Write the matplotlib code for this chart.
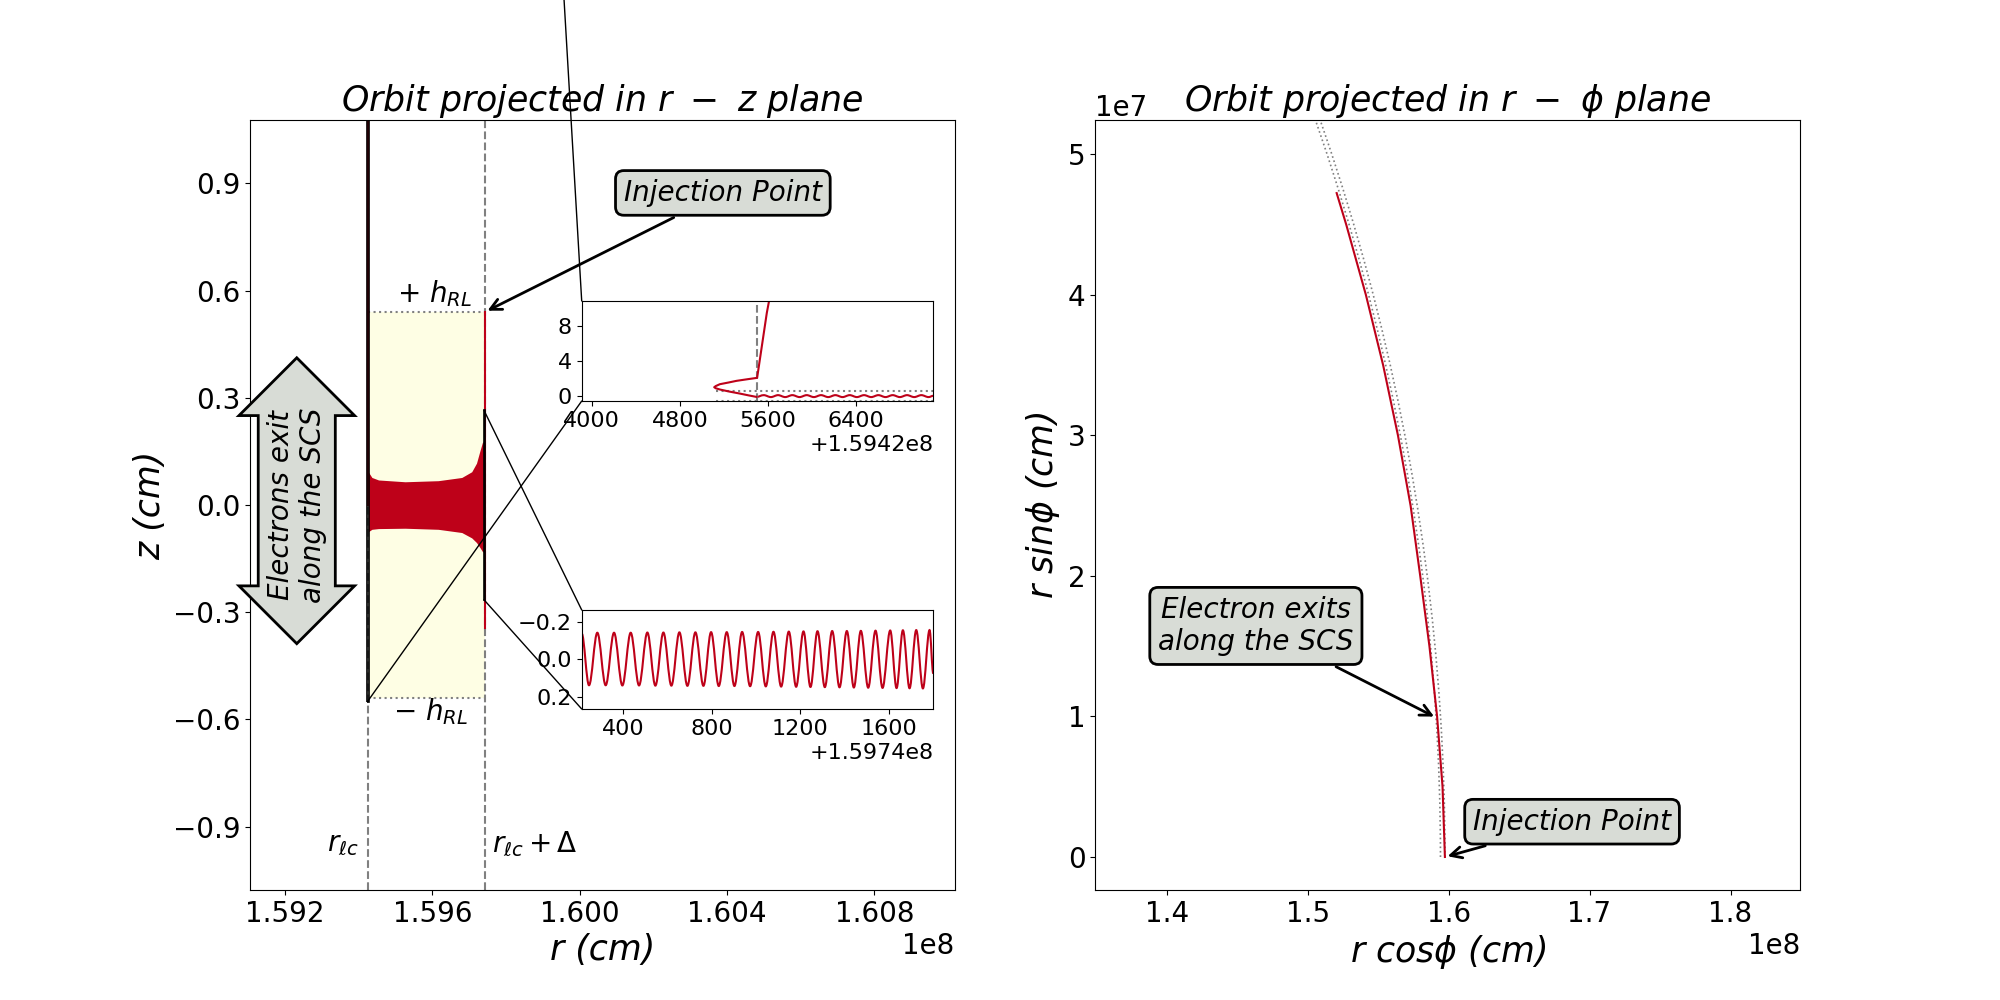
import numpy as np
import matplotlib.pyplot as plt
from matplotlib.patches import Rectangle, Arc, ConnectionPatch, PathPatch
from matplotlib.path import Path

RED = '#be0119'
BOX = '#d8dcd6'
YELLOW = '#fefee4'

# geometry of the light cylinder region (cm)
r_lc = 1.594255e8          # r_lc
r_out = 1.597430e8         # r_lc + Delta
h_rl = 0.54

main_xlim = (1.59105e8, 1.61018e8)
main_ylim = (-1.077, 1.077)
main_xticks = [1.592e8, 1.596e8, 1.600e8, 1.604e8, 1.608e8]
main_yticks = [-0.9, -0.6, -0.3, 0.0, 0.3, 0.6, 0.9]

# envelope of the fast z oscillation between r_lc and r_lc + Delta
band_r = [1.59426e8, 1.59436e8, 1.59454e8, 1.59526e8, 1.59616e8, 1.59680e8,
          1.59707e8, 1.59720e8, 1.59730e8, 1.59736e8, 1.59743e8]
band_top = [0.093, 0.077, 0.070, 0.065, 0.068, 0.077, 0.093, 0.117, 0.154, 0.175, 0.18]
band_bot = [-0.075, -0.068, -0.066, -0.065, -0.068, -0.077, -0.092, -0.105, -0.120, -0.130, -0.135]
edge_z = [-0.344, 0.54]     # orbit along r_lc + Delta
exit_z = [0.0, 10.8]        # orbit leaving along r_lc

# inset 1 (around r_lc)
ins1_base = 1.5942e8
ins1_xlim = (3909, 7098)
ins1_ylim = (-0.55, 10.8)
ins1_xticks = [4000, 4800, 5600, 6400]
ins1_yticks = [0, 4, 8]
ins1_dot_start = 5126
loop_dx = [5609, 5588, 5570, 5552, 5534, 5516, 5500, 5410, 5313, 5240, 5162, 5125, 5111,
           5125, 5162, 5250, 5343, 5420, 5494]
loop_z = [10.84, 9.44, 7.93, 6.42, 4.91, 3.40, 2.08, 1.92, 1.74, 1.55, 1.36, 1.15, 1.02,
          0.90, 0.76, 0.52, 0.30, 0.10, -0.08]
wig_dx = [5494, 5560, 5625, 5690, 5755, 5820, 5885, 5950, 6015, 6080, 6145, 6210, 6275,
          6340, 6405, 6470, 6535, 6600, 6665, 6730, 6795, 6860, 6925, 6990, 7055, 7100]
wig_z = [-0.08, 0.12, -0.10, 0.12, -0.10, 0.12, -0.10, 0.12, -0.10, 0.12, -0.10, 0.12, -0.10,
         0.12, -0.10, 0.12, -0.10, 0.12, -0.10, 0.12, -0.10, 0.12, -0.10, 0.12, -0.10, 0.05]

# inset 2 (near r_lc + Delta)
ins2_base = 1.5974e8
ins2_xlim = (212, 1800)
ins2_ylim = (0.265, -0.265)
ins2_xticks = [400, 800, 1200, 1600]
ins2_yticks = [-0.2, 0.0, 0.2]
osc_dx = [212, 245.0, 282.6, 320.3, 358.0, 395.7, 433.3, 471.0, 508.6, 544.8, 581.0, 617.1,
          653.3, 689.5, 725.6, 761.8, 796.4, 831.1, 867.2, 901.9, 936.6, 972.7, 1008.9,
          1043.5, 1078.2, 1112.9, 1147.5, 1180.6, 1213.8, 1245.4, 1277.1, 1310.2, 1343.4,
          1376.5, 1409.7, 1441.3, 1472.9, 1506.1, 1539.2, 1570.9, 1605.5, 1634.2, 1662.8,
          1692.9, 1723.1, 1753.2, 1783.3, 1800]
osc_z = [-0.139, 0.138, -0.143, 0.138, -0.143, 0.139, -0.143, 0.139, -0.144, 0.140, -0.144,
         0.140, -0.145, 0.141, -0.145, 0.141, -0.146, 0.142, -0.146, 0.142, -0.147, 0.143,
         -0.147, 0.144, -0.148, 0.145, -0.149, 0.146, -0.150, 0.147, -0.151, 0.148, -0.152,
         0.149, -0.152, 0.150, -0.153, 0.151, -0.154, 0.152, -0.155, 0.153, -0.156, 0.154,
         -0.157, 0.155, -0.157, 0.075]

# right panel: orbit in the r - phi plane
rp_xlim = (1.3495e8, 1.8493e8)
rp_ylim = (-0.235e7, 5.244e7)
rp_xticks = [1.4e8, 1.5e8, 1.6e8, 1.7e8, 1.8e8]
rp_yticks = [0, 1e7, 2e7, 3e7, 4e7, 5e7]
orbit_x = [1.5974e8, 1.59572e8, 1.59186e8, 1.58642e8, 1.57989e8, 1.57306e8, 1.56409e8,
           1.55357e8, 1.54134e8, 1.52739e8, 1.52061e8]
orbit_y = [0, 0.5e7, 1.0e7, 1.5e7, 2.0e7, 2.5e7, 3.0e7, 3.5e7, 4.0e7, 4.5e7, 4.724e7]
circle_r = [r_lc, r_out]


def smooth_wave(xs, zs):
    # cubic segments with flat tangents at each extremum
    verts = [(xs[0], zs[0])]
    codes = [Path.MOVETO]
    for i in range(1, len(xs)):
        h = 0.36 * (xs[i] - xs[i - 1])
        verts += [(xs[i - 1] + h, zs[i - 1]), (xs[i] - h, zs[i]), (xs[i], zs[i])]
        codes += [Path.CURVE4] * 3
    return Path(verts, codes)


txt = dict(fontsize=20, style='italic')
boxed = dict(boxstyle='round,pad=0.3', fc=BOX, ec='k', lw=2)

fig, (ax, ax2) = plt.subplots(1, 2, figsize=(20, 10))

# ---------------- left: r - z plane ----------------
ax.fill_between([r_lc, r_out], -h_rl, h_rl, color=YELLOW, lw=0)
ax.fill_between(band_r, band_bot, band_top, color=RED, lw=0)
ax.axvline(r_lc, color='gray', ls='--', lw=1.5)
ax.axvline(r_out, color='gray', ls='--', lw=1.5)
ax.plot([r_lc, r_out], [h_rl, h_rl], color='gray', ls=':', lw=1.5)
ax.plot([r_lc, r_out], [-h_rl, -h_rl], color='gray', ls=':', lw=1.5)
ax.plot([r_out, r_out], edge_z, color=RED, lw=1.5)
ax.plot([r_lc, r_lc], exit_z, color=RED, lw=1.5)

ax.set_xlim(main_xlim)
ax.set_ylim(main_ylim)
ax.set_xticks(main_xticks)
ax.set_yticks(main_yticks)
ax.tick_params(labelsize=20)
ax.xaxis.get_offset_text().set_fontsize(20)
ax.set_xlabel('r (cm)', fontsize=25, style='italic')
ax.set_ylabel('z (cm)', fontsize=25, style='italic')
ax.set_title(r'Orbit projected in $r\ -\ z$ plane', fontsize=25, style='italic')

ax.text(1.596073e8, 0.59, r'$+\ h_{RL}$', fontsize=20, ha='center', va='center')
ax.text(1.595938e8, -0.578, r'$-\ h_{RL}$', fontsize=20, ha='center', va='center')
ax.text(1.593577e8, -0.949, r'$r_{\ell c}$', fontsize=20, ha='center', va='center')
ax.text(1.598787e8, -0.949, r'$r_{\ell c} + \Delta$', fontsize=20, ha='center', va='center')

ax.text(1.59232e8, 0.0, 'Electrons exit\nalong the SCS', rotation=90, ha='center',
        va='center', bbox=dict(boxstyle='darrow,pad=0.3', fc=BOX, ec='k', lw=2), **txt)
ax.annotate('Injection Point', xy=(r_out, h_rl), xytext=(1.603889e8, 0.873),
            ha='center', va='center', bbox=boxed,
            arrowprops=dict(arrowstyle='->', color='k', lw=2), **txt)

# inset 1
ins1 = ax.inset_axes([0.4708, 0.635, 0.499, 0.13])
ins1.axvline(r_lc, color='gray', ls='--', lw=1.5)
ins1.plot([ins1_base + ins1_dot_start, ins1_base + ins1_xlim[1]], [h_rl, h_rl],
          color='gray', ls=':', lw=1.5)
ins1.plot([ins1_base + ins1_dot_start, ins1_base + ins1_xlim[1]], [-h_rl, -h_rl],
          color='gray', ls=':', lw=1.5)
ins1.plot(np.asarray(loop_dx) + ins1_base, loop_z, color=RED, lw=1.5)
ins1.add_patch(PathPatch(smooth_wave(np.asarray(wig_dx) + ins1_base, wig_z),
                         fill=False, ec=RED, lw=1.5))
ins1.set_xlim(ins1_base + ins1_xlim[0], ins1_base + ins1_xlim[1])
ins1.set_ylim(ins1_ylim)
ins1.set_xticks([ins1_base + v for v in ins1_xticks])
ins1.set_yticks(ins1_yticks)
ins1.tick_params(labelsize=16)
ins1.xaxis.get_offset_text().set_fontsize(16)

# inset 2
ins2 = ax.inset_axes([0.4708, 0.2351, 0.499, 0.1286])
ins2.add_patch(PathPatch(smooth_wave(np.asarray(osc_dx) + ins2_base, osc_z),
                         fill=False, ec=RED, lw=1.5))
ins2.set_xlim(ins2_base + ins2_xlim[0], ins2_base + ins2_xlim[1])
ins2.set_ylim(ins2_ylim)
ins2.set_xticks([ins2_base + v for v in ins2_xticks])
ins2.set_yticks(ins2_yticks)
ins2.tick_params(labelsize=16)
ins2.xaxis.get_offset_text().set_fontsize(16)

# zoom indicators: boxes in the main axes and lines to the inset corners
for ins, base, xl, yl in [(ins1, ins1_base, ins1_xlim, ins1_ylim),
                          (ins2, ins2_base, ins2_xlim, ins2_ylim)]:
    x0, x1 = base + xl[0], base + xl[1]
    lo, hi = min(yl), max(yl)
    ax.add_patch(Rectangle((x0, lo), x1 - x0, hi - lo, fill=False, ec='k', lw=1.2,
                           zorder=3))
    for corner, zc in [((0, 1), hi), ((0, 0), lo)]:
        fig.add_artist(ConnectionPatch(xyA=corner, coordsA=ins.transAxes,
                                       xyB=(x0, zc), coordsB=ax.transData,
                                       color='k', lw=1))

# ---------------- right: r - phi plane ----------------
for rad in circle_r:
    ax2.add_patch(Arc((0, 0), 2 * rad, 2 * rad, theta1=0, theta2=30,
                      color='gray', ls=':', lw=1.2))
ax2.plot(orbit_x, orbit_y, color=RED, lw=1.5)
ax2.set_xlim(rp_xlim)
ax2.set_ylim(rp_ylim)
ax2.set_xticks(rp_xticks)
ax2.set_yticks(rp_yticks)
ax2.tick_params(labelsize=20)
ax2.xaxis.get_offset_text().set_fontsize(20)
ax2.yaxis.get_offset_text().set_fontsize(20)
ax2.set_xlabel(r'r cos$\phi$ (cm)', fontsize=25, style='italic')
ax2.set_ylabel(r'r sin$\phi$ (cm)', fontsize=25, style='italic')
ax2.set_title(r'Orbit projected in $r\ -\ \phi$ plane', fontsize=25, style='italic')

ax2.annotate('Electron exits\nalong the SCS', xy=(1.5915e8, 0.99e7),
             xytext=(1.4633e8, 1.644e7), ha='center', va='center', bbox=boxed,
             arrowprops=dict(arrowstyle='->', color='k', lw=2), **txt)
ax2.annotate('Injection Point', xy=(1.5974e8, 0), xytext=(1.6876e8, 0.251e7),
             ha='center', va='center', bbox=boxed,
             arrowprops=dict(arrowstyle='->', color='k', lw=2), **txt)

plt.savefig('out.png', dpi=100)
